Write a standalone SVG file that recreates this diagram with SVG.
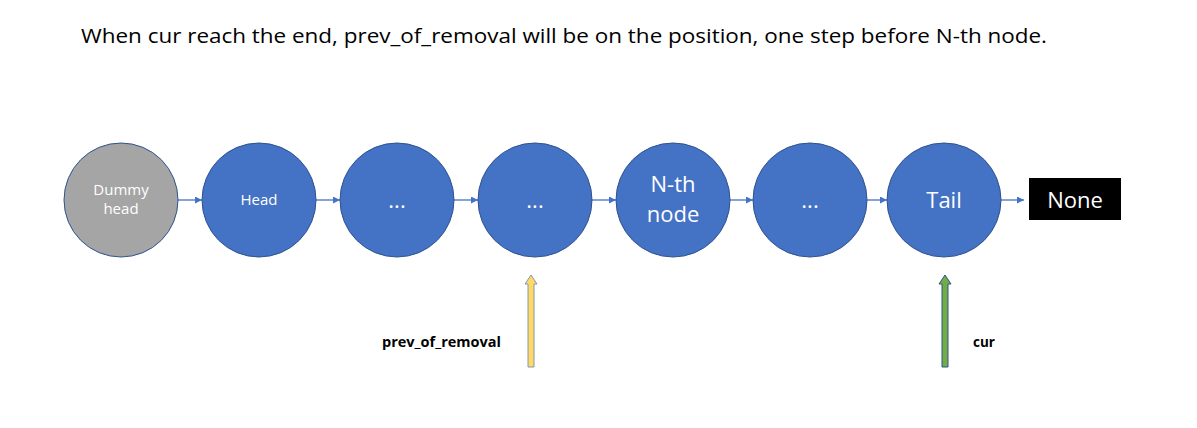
<svg xmlns="http://www.w3.org/2000/svg" width="1197" height="428" viewBox="0 0 1197 428">
<style>
.node{fill:#4472C4;stroke:#2F528F;stroke-width:1}
.dummy{fill:#A5A5A5;stroke:#2F528F;stroke-width:1}
.lbl{font-family:"Open Sans","Liberation Sans",sans-serif;fill:#FFFFFF;text-anchor:middle}
.conn{stroke:#4472C4;stroke-width:1.3;fill:none;marker-end:url(#ah)}
.ptr{font-family:"Open Sans","Liberation Sans",sans-serif;font-weight:bold;font-size:13.5px;fill:#000}
</style>
<defs>
<marker id="ah" viewBox="0 0 10 10" refX="10" refY="5" markerWidth="7" markerHeight="7" markerUnits="userSpaceOnUse" orient="auto">
<path d="M0,0 L10,5 L0,10 Z" fill="#4472C4"/>
</marker>
</defs>
<rect width="1197" height="428" fill="#FFFFFF"/>
<text x="81" y="43" font-family="Open Sans,Liberation Sans,sans-serif" font-size="20" fill="#000" textLength="966" lengthAdjust="spacingAndGlyphs">When cur reach the end, prev_of_removal will be on the position, one step before N-th node.</text>
<g id="connectors">
<line class="conn" x1="178" y1="200" x2="202" y2="200"/>
<line class="conn" x1="316" y1="200" x2="340" y2="200"/>
<line class="conn" x1="454" y1="200" x2="478" y2="200"/>
<line class="conn" x1="592" y1="200" x2="616" y2="200"/>
<line class="conn" x1="730" y1="200" x2="753" y2="200"/>
<line class="conn" x1="867" y1="200" x2="887" y2="200"/>
<line class="conn" x1="1001" y1="200" x2="1024" y2="200"/>
</g>
<g id="dummy-head">
<circle class="dummy" cx="121" cy="200" r="57"/>
<text class="lbl" x="121" y="195" font-size="15">Dummy</text>
<text class="lbl" x="121" y="214" font-size="15">head</text>
</g>
<g id="head">
<circle class="node" cx="259" cy="200" r="57"/>
<text class="lbl" x="259" y="205" font-size="15">Head</text>
</g>
<g id="ellipsis1">
<circle class="node" cx="397" cy="200" r="57"/>
<text class="lbl" x="397" y="208" font-size="22">...</text>
</g>
<g id="ellipsis2">
<circle class="node" cx="535" cy="200" r="57"/>
<text class="lbl" x="535" y="208" font-size="22">...</text>
</g>
<g id="nth-node">
<circle class="node" cx="673" cy="200" r="57"/>
<text class="lbl" x="673" y="192" font-size="22">N-th</text>
<text class="lbl" x="673" y="222" font-size="22">node</text>
</g>
<g id="ellipsis3">
<circle class="node" cx="810" cy="200" r="57"/>
<text class="lbl" x="810" y="208" font-size="22">...</text>
</g>
<g id="tail">
<circle class="node" cx="944" cy="200" r="57"/>
<text class="lbl" x="944" y="208" font-size="22">Tail</text>
</g>
<g id="none">
<rect x="1029" y="178" width="92" height="42" fill="#000"/>
<text class="lbl" x="1075" y="208" font-size="22">None</text>
</g>
<g id="prev-pointer">
<path d="M528,367 L528,284 L525,284 L531,275 L537,284 L534,284 L534,367 Z" fill="#FFD966" stroke="#8497B0" stroke-width="1"/>
<text class="ptr" x="382" y="347" textLength="119" lengthAdjust="spacingAndGlyphs">prev_of_removal</text>
</g>
<g id="cur-pointer">
<path d="M942,367 L942,284 L939,284 L945,275 L951,284 L948,284 L948,367 Z" fill="#70AD47" stroke="#2F528F" stroke-width="1"/>
<text class="ptr" x="973" y="347">cur</text>
</g>
</svg>
